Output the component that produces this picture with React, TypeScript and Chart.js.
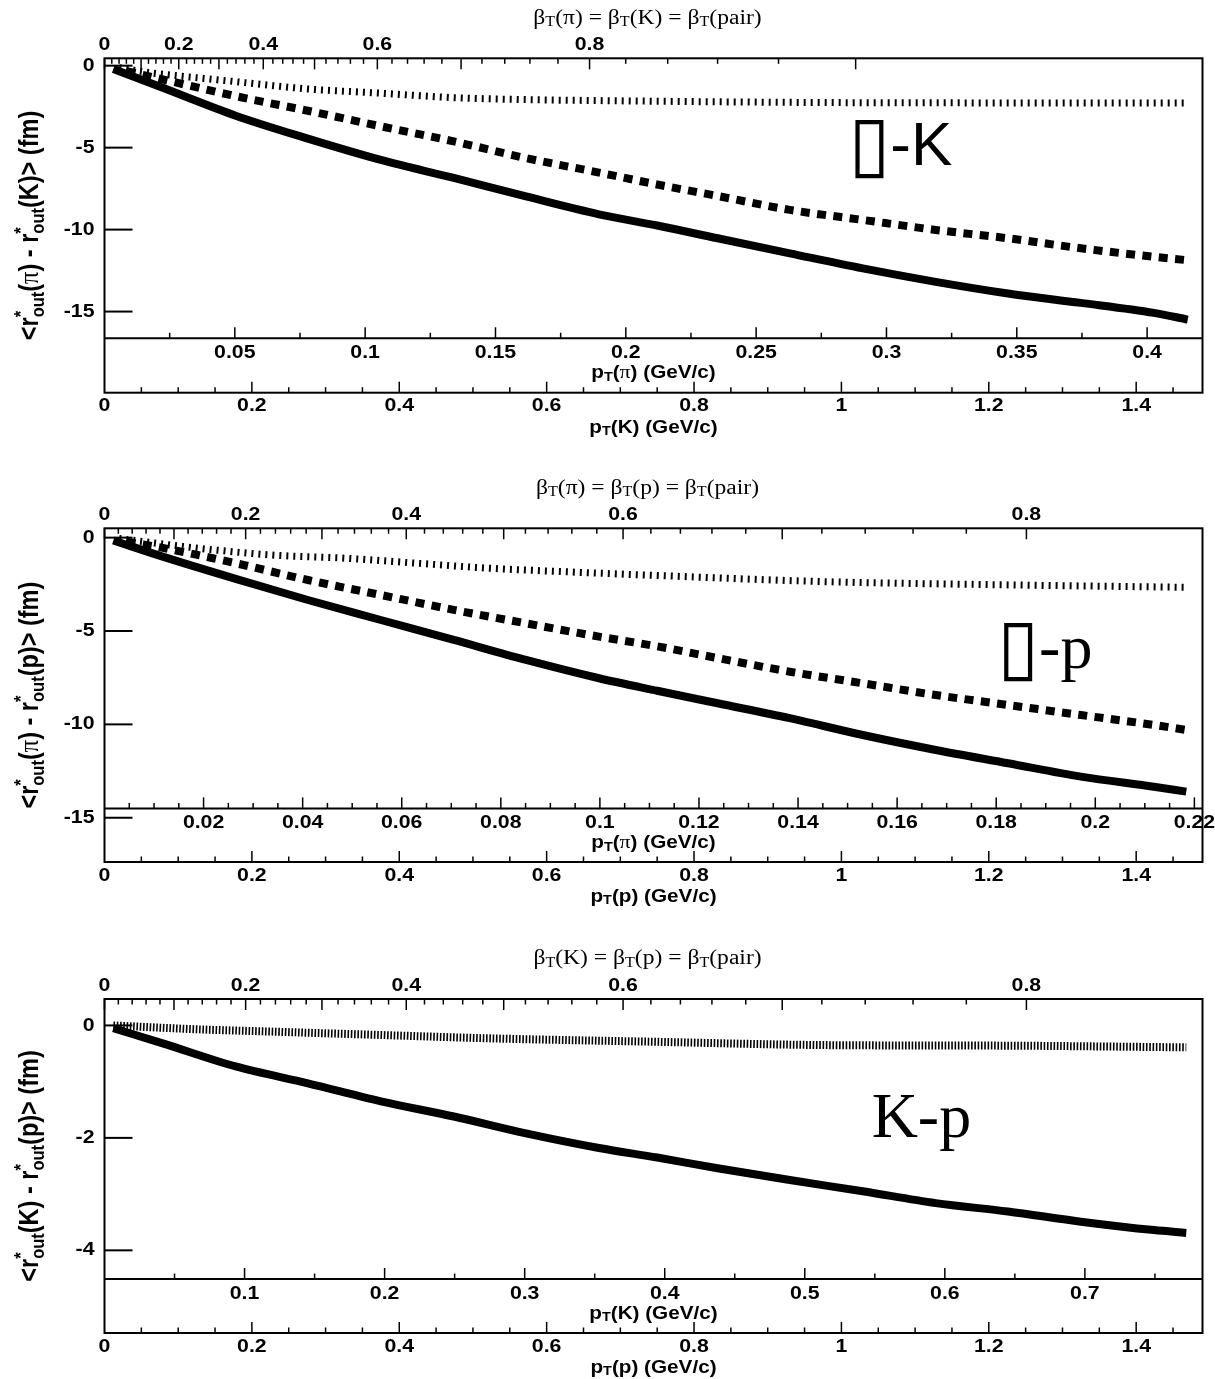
import React, { useEffect, useRef } from "react";
import { Chart, registerables } from "chart.js";

Chart.register(...registerables);

// particle masses (GeV/c^2)
const M_PI = 0.13957;
const M_K = 0.493677;
const M_P = 0.938272;

// ---------- Panel 1 : pi-K  (x = pT(K)) ----------
const PIK_SOLID_PT = [0.012, 0.079, 0.178, 0.276, 0.375, 0.474, 0.572, 0.671, 0.75, 0.832, 0.93, 1.029, 1.128, 1.226, 1.325, 1.424, 1.47];
const PIK_SOLID = [-0.2, -1.35, -3.05, -4.45, -5.75, -6.85, -7.98, -9.07, -9.75, -10.53, -11.45, -12.37, -13.19, -13.9, -14.47, -15.08, -15.49];
const PIK_DASHED_PT = [0.03, 0.079, 0.178, 0.276, 0.375, 0.474, 0.572, 0.671, 0.75, 0.832, 0.93, 1.029, 1.128, 1.226, 1.325, 1.424, 1.468];
const PIK_DASHED = [-0.33, -0.84, -1.86, -2.75, -3.7, -4.62, -5.64, -6.52, -7.25, -7.95, -8.8, -9.41, -10.02, -10.53, -11.14, -11.66, -11.86];
const PIK_DOTTED_PT = [0.02, 0.06, 0.104, 0.153, 0.202, 0.276, 0.375, 0.474, 0.572, 0.671, 0.75, 0.98, 1.226, 1.47];
const PIK_DOTTED = [-0.12, -0.42, -0.64, -0.86, -1.09, -1.42, -1.68, -1.95, -2.07, -2.13, -2.17, -2.25, -2.27, -2.27];

// ---------- Panel 2 : pi-p  (x = pT(p)) ----------
const PIP_SOLID_PT = [0.012, 0.079, 0.178, 0.276, 0.375, 0.474, 0.572, 0.671, 0.75, 0.832, 0.93, 1.029, 1.128, 1.226, 1.325, 1.424, 1.468];
const PIP_SOLID = [-0.15, -1.02, -2.21, -3.34, -4.41, -5.48, -6.55, -7.53, -8.2, -8.87, -9.67, -10.57, -11.37, -12.08, -12.8, -13.34, -13.6];
const PIP_DASHED_PT = [0.03, 0.079, 0.178, 0.276, 0.375, 0.474, 0.572, 0.671, 0.75, 0.832, 0.93, 1.029, 1.128, 1.226, 1.325, 1.424, 1.468];
const PIP_DASHED = [-0.21, -0.55, -1.37, -2.27, -3.07, -3.87, -4.59, -5.3, -5.82, -6.45, -7.18, -7.8, -8.43, -8.96, -9.5, -10.03, -10.3];
const PIP_DOTTED_PT = [0.02, 0.128, 0.227, 0.326, 0.424, 0.523, 0.621, 0.745, 0.98, 1.226, 1.468];
const PIP_DOTTED = [-0.05, -0.57, -0.93, -1.1, -1.37, -1.64, -1.82, -2.02, -2.36, -2.53, -2.66];

// ---------- Panel 3 : K-p  (x = pT(p)) ----------
const KP_SOLID_PT = [0.012, 0.079, 0.178, 0.276, 0.375, 0.474, 0.572, 0.671, 0.75, 0.832, 0.93, 1.029, 1.128, 1.226, 1.325, 1.424, 1.468];
const KP_SOLID = [-0.05, -0.32, -0.73, -1.03, -1.35, -1.62, -1.92, -2.18, -2.35, -2.54, -2.75, -2.95, -3.16, -3.31, -3.49, -3.64, -3.69];
const KP_DOTTED_PT = [0.012, 0.128, 0.227, 0.375, 0.523, 0.745, 0.98, 1.226, 1.468];
const KP_DOTTED = [0, -0.07, -0.11, -0.17, -0.23, -0.29, -0.35, -0.36, -0.39];

// ---------- tick labels ----------
const X_MAX = 1.49;
const BOTTOM_LABELS = [0, 0.2, 0.4, 0.6, 0.8, 1, 1.2, 1.4];
const BOTTOM_MINOR_STEP = 0.05;
const PIK_MID_LABELS = [0.05, 0.1, 0.15, 0.2, 0.25, 0.3, 0.35, 0.4];
const PIP_MID_LABELS = [0.02, 0.04, 0.06, 0.08, 0.1, 0.12, 0.14, 0.16, 0.18, 0.2, 0.22];
const KP_MID_LABELS = [0.1, 0.2, 0.3, 0.4, 0.5, 0.6, 0.7];
const BETA_LABELS = [0, 0.2, 0.4, 0.6, 0.8];
const BETA_MINOR_STEP = 0.02;
const PIK_Y_TICKS = [0, -5, -10, -15];
const PIP_Y_TICKS = [0, -5, -10, -15];
const KP_Y_TICKS = [0, -2, -4];

// ---------- fonts / text helpers ----------
const SANS = "'Liberation Sans', Arial, Helvetica, sans-serif";
const SERIF = "'Liberation Serif', 'Times New Roman', Times, serif";
const BOX_FONT = "'DejaVu Sans', sans-serif";
const SX = 1.15; // horizontal stretch of the ROOT-rendered text
const bold = (px: number) => `bold ${px}px ${SANS}`;
const serif = (px: number) => `${px}px ${SERIF}`;

type Seg = { t?: string; sup?: string; sub?: string; font: string; dy?: number; supDy?: number; subDy?: number };

function segW(ctx: CanvasRenderingContext2D, s: Seg) {
  ctx.font = s.font;
  if (s.t !== undefined) return ctx.measureText(s.t).width;
  return Math.max(ctx.measureText(s.sup || "").width, ctx.measureText(s.sub || "").width);
}

function drawRich(
  ctx: CanvasRenderingContext2D,
  segs: Seg[],
  x: number,
  y: number,
  o: { align?: "left" | "center"; rotate?: boolean; sx?: number; baseline?: CanvasTextBaseline } = {}
) {
  const sx = o.sx ?? 1;
  ctx.save();
  ctx.translate(x, y);
  if (o.rotate) {
    ctx.rotate(-Math.PI / 2);
    ctx.scale(1, sx);
  } else ctx.scale(sx, 1);
  ctx.textBaseline = o.baseline ?? "middle";
  ctx.textAlign = "left";
  ctx.fillStyle = "#000";
  const total = segs.reduce((a, s) => a + segW(ctx, s), 0);
  let cx = o.align === "center" ? -total / 2 : 0;
  for (const s of segs) {
    const w = segW(ctx, s);
    ctx.font = s.font;
    if (s.t !== undefined) ctx.fillText(s.t, cx, s.dy ?? 0);
    else {
      if (s.sup) ctx.fillText(s.sup, cx, s.supDy ?? 0);
      if (s.sub) ctx.fillText(s.sub, cx, s.subDy ?? 0);
    }
    cx += w;
  }
  ctx.restore();
}

const fmt = (v: number) => String(+v.toFixed(3));

function ptTitle(label: string, greek: boolean): Seg[] {
  return [
    { t: "p", font: bold(18) },
    { t: "T", font: bold(12.5), dy: 4 },
    { t: "(", font: bold(18) },
    greek ? { t: "π", font: serif(19) } : { t: label, font: bold(18) },
    { t: ") (GeV/c)", font: bold(18) },
  ];
}

function betaTitle(a: string, b: string): Seg[] {
  const beta: Seg[] = [
    { t: "β", font: serif(20.5) },
    { t: "T", font: serif(14), dy: 4 },
  ];
  return [
    ...beta,
    { t: "(" + a + ") = ", font: serif(20.5) },
    ...beta,
    { t: "(" + b + ") = ", font: serif(20.5) },
    ...beta,
    { t: "(pair)", font: serif(20.5) },
  ];
}

function yTitle(a: string, aGreek: boolean, b: string): Seg[] {
  const star: Seg = { sup: "*", sub: "out", font: bold(16.5), supDy: -8, subDy: 7 };
  return [
    { t: "<r", font: bold(23.5) },
    star,
    { t: "(", font: bold(23.5) },
    aGreek ? { t: a, font: serif(24.5) } : { t: a, font: bold(23.5) },
    { t: ") - r", font: bold(23.5) },
    star,
    { t: "(" + b + ")> (fm)", font: bold(23.5) },
  ];
}

type PanelCfg = {
  top: number;
  height: number;
  frameTop: number;
  frameBottom: number;
  yMin: number;
  yMax: number;
  yTicks: number[];
  mBottom: number;
  mMid: number;
  midY: number;
  midLabels: number[];
  midMinor: number;
  betaMax: number;
  betaTitle: Seg[];
  yTitle: Seg[];
  midTitle: Seg[];
  bottomTitle: Seg[];
  tag: Seg[];
  tagAt: [number, number];
  series: { x: number[]; y: number[]; style: string }[];
};

const STYLES: Record<string, any> = {
  solid: { borderWidth: 8, borderDash: [] },
  dashed: { borderWidth: 8, borderDash: [9, 7.4] },
  dotted: { borderWidth: 7, borderDash: [2, 5] },
  dense: { borderWidth: 8, borderDash: [1.6, 1.7] },
};

const PANELS: PanelCfg[] = [
  {
    top: 0,
    height: 450,
    frameTop: 58.3,
    frameBottom: 392.7,
    yMin: -19.95,
    yMax: 0.45,
    yTicks: PIK_Y_TICKS,
    mBottom: M_K,
    mMid: M_PI,
    midY: -16.63,
    midLabels: PIK_MID_LABELS,
    midMinor: 0.025,
    betaMax: 0.9,
    betaTitle: betaTitle("π", "K"),
    yTitle: yTitle("π", true, "K"),
    midTitle: ptTitle("π", true),
    bottomTitle: ptTitle("K", false),
    tag: [
      { t: "▯", font: `76px ${BOX_FONT}`, dy: 4 },
      { t: "-K", font: `62px ${SANS}` },
    ],
    tagAt: [1.0095, -6.05],
    series: [
      { x: PIK_SOLID_PT, y: PIK_SOLID, style: "solid" },
      { x: PIK_DASHED_PT, y: PIK_DASHED, style: "dashed" },
      { x: PIK_DOTTED_PT, y: PIK_DOTTED, style: "dotted" },
    ],
  },
  {
    top: 460,
    height: 460,
    frameTop: 528.3,
    frameBottom: 862,
    yMin: -17.37,
    yMax: 0.5,
    yTicks: PIP_Y_TICKS,
    mBottom: M_P,
    mMid: M_PI,
    midY: -14.5,
    midLabels: PIP_MID_LABELS,
    midMinor: 0.005,
    betaMax: 0.8,
    betaTitle: betaTitle("π", "p"),
    yTitle: yTitle("π", true, "p"),
    midTitle: ptTitle("π", true),
    bottomTitle: ptTitle("p", false),
    tag: [
      { t: "▯", font: `76px ${BOX_FONT}`, dy: 4 },
      { t: "-p", font: serif(64) },
    ],
    tagAt: [1.2115, -6.98],
    series: [
      { x: PIP_SOLID_PT, y: PIP_SOLID, style: "solid" },
      { x: PIP_DASHED_PT, y: PIP_DASHED, style: "dashed" },
      { x: PIP_DOTTED_PT, y: PIP_DOTTED, style: "dotted" },
    ],
  },
  {
    top: 930,
    height: 449,
    frameTop: 999,
    frameBottom: 1333,
    yMin: -5.47,
    yMax: 0.47,
    yTicks: KP_Y_TICKS,
    mBottom: M_P,
    mMid: M_K,
    midY: -4.51,
    midLabels: KP_MID_LABELS,
    midMinor: 0.05,
    betaMax: 0.8,
    betaTitle: betaTitle("K", "p"),
    yTitle: yTitle("K", false, "p"),
    midTitle: ptTitle("K", false),
    bottomTitle: ptTitle("p", false),
    tag: [{ t: "K-p", font: serif(64) }],
    tagAt: [1.041, -1.977],
    series: [
      { x: KP_SOLID_PT, y: KP_SOLID, style: "solid" },
      { x: KP_DOTTED_PT, y: KP_DOTTED, style: "dense" },
    ],
  },
];

function makeAxesPlugin(cfg: PanelCfg) {
  return {
    id: "rootAxes",
    afterDatasetsDraw(chart: any) {
      const ctx: CanvasRenderingContext2D = chart.ctx;
      const xs = chart.scales.x;
      const ys = chart.scales.y;
      const { left, right, top, bottom } = chart.chartArea;
      const X = (v: number) => xs.getPixelForValue(v);
      const Y = (v: number) => ys.getPixelForValue(v);
      const line = (x1: number, y1: number, x2: number, y2: number, w: number) => {
        ctx.lineWidth = w;
        ctx.beginPath();
        ctx.moveTo(x1, y1);
        ctx.lineTo(x2, y2);
        ctx.stroke();
      };
      const label = (text: string, x: number, y: number, align: CanvasTextAlign) => {
        ctx.save();
        ctx.translate(x, y);
        ctx.scale(SX, 1);
        ctx.font = bold(18.5);
        ctx.textAlign = align;
        ctx.textBaseline = "middle";
        ctx.fillStyle = "#000";
        ctx.fillText(text, 0, 0);
        ctx.restore();
      };
      const isMajor = (v: number, labels: number[]) => labels.some((l) => Math.abs(l - v) < 1e-6);

      ctx.save();
      ctx.strokeStyle = "#000";
      ctx.lineCap = "butt";

      // frame
      ctx.lineWidth = 2;
      ctx.strokeRect(left, top, right - left, bottom - top);

      // left y axis: long inward ticks
      for (const v of cfg.yTicks) {
        const py = Y(v);
        line(left, py, left + 28, py, 2);
        label(fmt(v), left - 10, py, "right");
      }

      // top beta axis (non-linear in pT)
      const pOfBeta = (b: number) => (cfg.mBottom * b) / Math.sqrt(1 - b * b);
      const nB = Math.round(cfg.betaMax / BETA_MINOR_STEP);
      for (let i = 0; i <= nB; i++) {
        const b = i * BETA_MINOR_STEP;
        const px = X(pOfBeta(b));
        line(px, top, px, top + (i % 5 === 0 ? 11 : 5.5), 1.5);
      }
      for (const b of BETA_LABELS) label(fmt(b), X(pOfBeta(b)), top - 13.5, "center");
      drawRich(ctx, cfg.betaTitle, (left + right) / 2 - 6, top - 40, { align: "center", sx: SX });

      // middle axis: pT of the lighter particle
      const my = Y(cfg.midY);
      line(left, my, right, my, 2);
      const conv = cfg.mBottom / cfg.mMid;
      for (let i = 1; i * cfg.midMinor * conv <= X_MAX + 1e-9; i++) {
        const v = i * cfg.midMinor;
        const px = X(v * conv);
        line(px, my, px, my - (isMajor(v, cfg.midLabels) ? 11 : 5.5), 1.5);
      }
      for (const v of cfg.midLabels) label(fmt(v), X(v * conv), my + 14.5, "center");
      drawRich(ctx, cfg.midTitle, (left + right) / 2, my + 35, { align: "center", sx: SX });

      // bottom axis
      for (let i = 1; i * BOTTOM_MINOR_STEP <= X_MAX + 1e-9; i++) {
        const v = i * BOTTOM_MINOR_STEP;
        const px = X(v);
        line(px, bottom, px, bottom - (isMajor(v, BOTTOM_LABELS) ? 11 : 5.5), 1.5);
      }
      for (const v of BOTTOM_LABELS) label(fmt(v), X(v), bottom + 13.5, "center");
      drawRich(ctx, cfg.bottomTitle, (left + right) / 2, bottom + 35, { align: "center", sx: SX });

      // y title
      drawRich(ctx, cfg.yTitle, 31, (top + bottom) / 2, { align: "center", rotate: true, sx: SX });

      // panel tag
      drawRich(ctx, cfg.tag, X(cfg.tagAt[0]), Y(cfg.tagAt[1]), { align: "left", baseline: "alphabetic" });

      ctx.restore();
    },
  };
}

function Panel({ cfg }: { cfg: PanelCfg }) {
  const ref = useRef<HTMLCanvasElement>(null);
  useEffect(() => {
    const canvas = ref.current!;
    const chart = new Chart(canvas, {
      type: "line",
      data: {
        datasets: cfg.series.map((s) => ({
          data: s.x.map((x, i) => ({ x, y: s.y[i] })),
          borderColor: "#000",
          backgroundColor: "#000",
          pointRadius: 0,
          fill: false,
          cubicInterpolationMode: "monotone",
          borderCapStyle: "butt",
          borderJoinStyle: "round",
          ...STYLES[s.style],
        })) as any,
      },
      options: {
        responsive: false,
        maintainAspectRatio: false,
        animation: false,
        events: [],
        devicePixelRatio: 1,
        layout: {
          padding: {
            left: 104.5,
            right: 12.5,
            top: cfg.frameTop - cfg.top,
            bottom: cfg.top + cfg.height - cfg.frameBottom,
          },
        },
        scales: {
          x: { type: "linear", min: 0, max: X_MAX, display: false },
          y: { type: "linear", min: cfg.yMin, max: cfg.yMax, display: false },
        },
        plugins: {
          legend: { display: false },
          tooltip: { enabled: false },
        },
      },
      plugins: [makeAxesPlugin(cfg)],
    });
    return () => chart.destroy();
  }, [cfg]);
  return (
    <canvas
      ref={ref}
      width={1215}
      height={cfg.height}
      style={{ position: "absolute", left: 0, top: cfg.top, width: 1215, height: cfg.height }}
    />
  );
}

export default function App() {
  return (
    <div style={{ position: "absolute", left: 0, top: 0, width: 1215, height: 1379, background: "#fff" }}>
      {PANELS.map((p, i) => (
        <Panel key={i} cfg={p} />
      ))}
    </div>
  );
}
